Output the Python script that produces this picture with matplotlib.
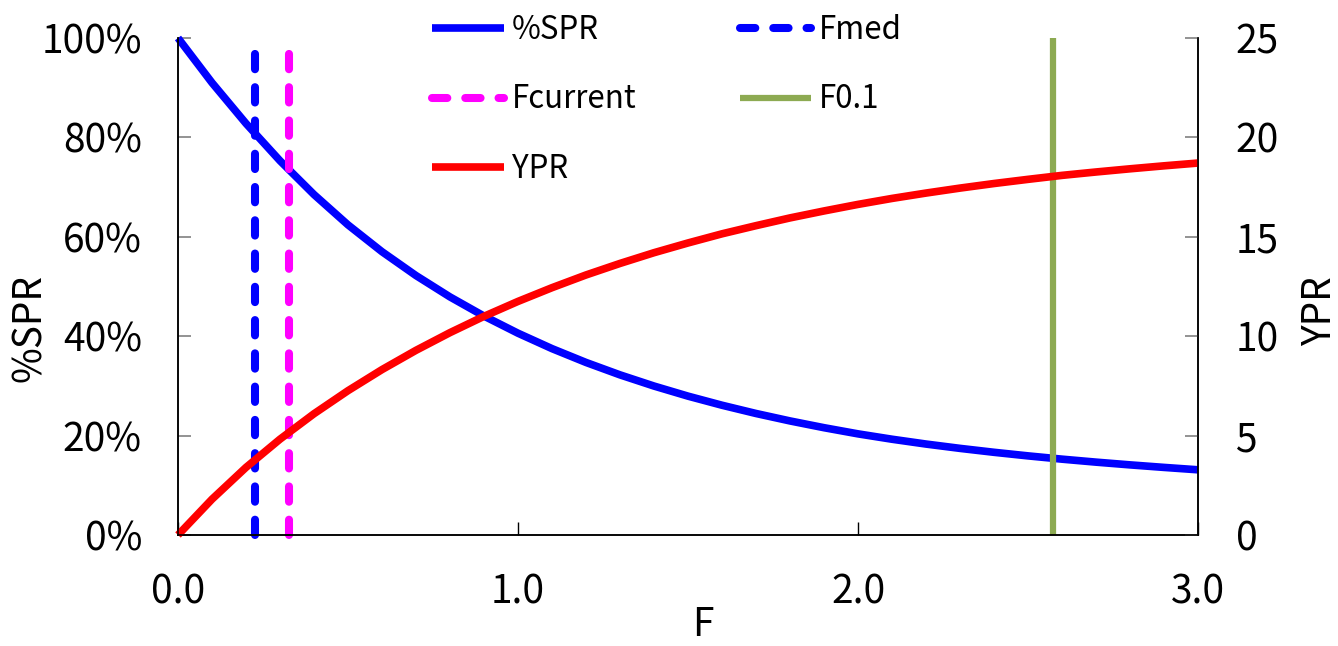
import numpy as np
import matplotlib.pyplot as plt

plt.rcParams['font.family'] = ['Noto Sans CJK JP', 'DejaVu Sans']

# fishing mortality grid and curves
F = [0.0, 0.1, 0.2, 0.3, 0.4, 0.5, 0.6, 0.7, 0.8, 0.9, 1.0,
     1.1, 1.2, 1.3, 1.4, 1.5, 1.6, 1.7, 1.8, 1.9, 2.0,
     2.1, 2.2, 2.3, 2.4, 2.5, 2.6, 2.7, 2.8, 2.9, 3.0]
spr = [100.0, 91.0, 82.8, 75.3, 68.5, 62.4, 57.0, 52.2, 47.9, 44.05, 40.6,
       37.5, 34.72, 32.22, 29.97, 27.94, 26.11, 24.45, 22.95, 21.59, 20.35,
       19.27, 18.30, 17.43, 16.64, 15.92, 15.26, 14.66, 14.11, 13.60, 13.12]
ypr = [0.0, 1.8, 3.4, 4.82, 6.1, 7.26, 8.32, 9.29, 10.18, 11.0, 11.75,
       12.44, 13.08, 13.66, 14.2, 14.69, 15.15, 15.56, 15.95, 16.3, 16.63,
       16.93, 17.2, 17.45, 17.68, 17.89, 18.09, 18.26, 18.42, 18.57, 18.71]

f_med = 0.226
f_current = 0.327
f_01 = 2.574

spr_ticks = [0, 20, 40, 60, 80, 100]
ypr_ticks = [0, 5, 10, 15, 20, 25]
f_ticks = [0.0, 1.0, 2.0, 3.0]

W, H = 1338, 646
fig = plt.figure(figsize=(W / 100, H / 100), dpi=100)
ax = fig.add_axes([178 / W, 1 - 535 / H, 1020 / W, 497 / H])
ax2 = ax.twinx()

dash = (1.9, 2.23)
l_spr, = ax.plot(F, np.array(spr) / 100, color='#0000FF', lw=5.5,
                 solid_capstyle='butt', clip_on=False, label='%SPR')
l_med, = ax.plot([f_med, f_med], [0, 1], color='#0000FF', lw=5.8,
                 dashes=dash, dash_capstyle='round', clip_on=False, label='Fmed')
l_cur, = ax.plot([f_current, f_current], [0, 1], color='#FF00FF', lw=5.8,
                 dashes=dash, dash_capstyle='round', clip_on=False, label='Fcurrent')
l_01, = ax.plot([f_01, f_01], [0, 1], color='#8DAA52', lw=4.5,
                solid_capstyle='butt', clip_on=False, label='F0.1')
l_ypr, = ax2.plot(F, ypr, color='#FF0000', lw=5.5,
                  solid_capstyle='butt', clip_on=False, label='YPR')

ax.set_xlim(0, 3)
ax.set_ylim(0, 1)
ax2.set_ylim(0, 25)
ax.set_xticks(f_ticks)
ax.set_xticklabels(['%.1f' % v for v in f_ticks])
ax.set_yticks([v / 100 for v in spr_ticks])
ax.set_yticklabels(['%d%%' % v for v in spr_ticks])
ax2.set_yticks(ypr_ticks)
ax2.set_yticklabels([str(v) for v in ypr_ticks])

for a in (ax, ax2):
    a.spines['top'].set_visible(False)
    for s in ('left', 'right', 'bottom'):
        a.spines[s].set_linewidth(1.1)
        a.spines[s].set_color('black')

ax.tick_params(axis='y', direction='in', length=9.5, width=1.2, color='#808080',
               pad=26, labelsize=28)
ax.tick_params(axis='x', direction='in', length=9.5, width=1.0, color='black',
               pad=27, labelsize=28)
ax2.tick_params(axis='y', direction='in', length=9.5, width=1.2, color='#808080',
                pad=27, labelsize=28)

fig.text(30 / W, 1 - 328 / H, '%SPR', rotation=90, ha='center', va='center', fontsize=28)
fig.text(1320 / W, 1 - 311 / H, 'YPR', rotation=90, ha='center', va='center', fontsize=28)
fig.text(703 / W, 1 - 625 / H, 'F', ha='center', va='center', fontsize=28)

fig.legend([l_spr, l_cur, l_ypr, l_med, l_01],
           ['%SPR', 'Fcurrent', 'YPR', 'Fmed', 'F0.1'],
           ncol=2, loc='upper left', bbox_to_anchor=(432 / W, 1 - 14 / H),
           frameon=False, fontsize=22.5, handlelength=2.3, handletextpad=0.25,
           columnspacing=3.3, labelspacing=1.2, borderpad=0, borderaxespad=0)

fig.savefig('out.png', dpi=100)
